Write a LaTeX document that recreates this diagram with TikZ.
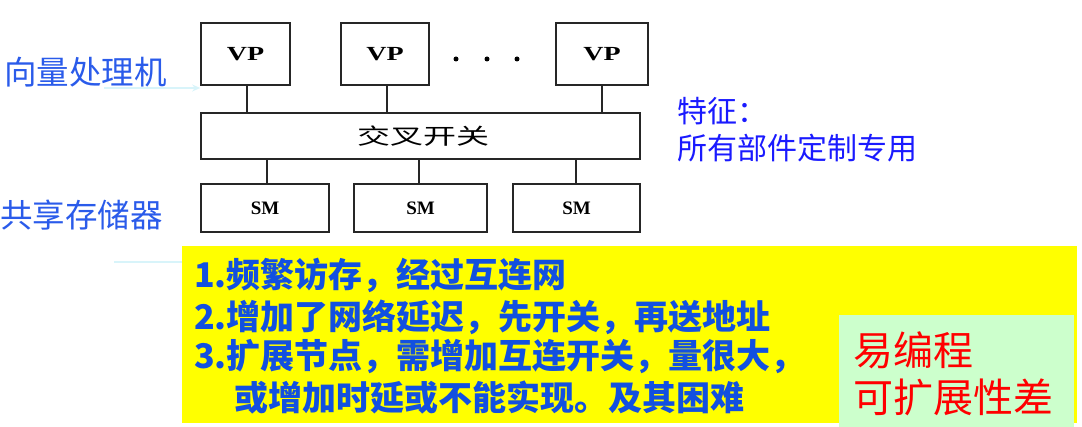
\documentclass[tikz,border=0pt]{standalone}
\usepackage{fontspec}
\setmainfont{Liberation Serif}
\newfontfamily\cjk{Noto Sans CJK SC}
\usetikzlibrary{arrows.meta}
\definecolor{lblue}{HTML}{2A5BEA}
\definecolor{tblue}{HTML}{1250E0}
\definecolor{fblue}{HTML}{1A1AFF}
\definecolor{ayellow}{HTML}{FFFF00}
\definecolor{agreen}{HTML}{CCFFCC}
\definecolor{acyan}{HTML}{D8F4FA}
\begin{document}
\begin{tikzpicture}[x=1pt,y=-1pt,
  blk/.style={draw=black!85,line width=1.6pt,inner sep=0pt},
  lnk/.style={draw=black!85,line width=1.6pt},
  side/.style={anchor=west,text=lblue,font=\cjk\fontsize{32.5}{36}\selectfont,inner sep=0pt},
  item/.style={anchor=west,text=tblue,font=\cjk\bfseries\fontsize{34}{38}\selectfont,inner sep=0pt},
  redt/.style={anchor=west,text=red,font=\cjk\fontsize{40}{44}\selectfont,inner sep=0pt},
  feat/.style={anchor=west,text=fblue,font=\cjk\fontsize{30}{34}\selectfont,inner sep=0pt},
  vpt/.style={font=\bfseries\fontsize{20}{22}\selectfont},
  smt/.style={font=\bfseries\fontsize{19}{20}\selectfont}]
\useasboundingbox (0,0) rectangle (1082,427);
% VP boxes
\node[blk,minimum width=89pt,minimum height=62pt] (vp1) at (245.5,54) {};
\node[blk,minimum width=88pt,minimum height=62pt] (vp2) at (385,54) {};
\node[blk,minimum width=92pt,minimum height=62pt] (vp3) at (602,54) {};
\node[vpt] (vp1t) at (vp1) {\scalebox{1.4}[1]{VP}};
\node[vpt] (vp2t) at (vp2) {\scalebox{1.4}[1]{VP}};
\node[vpt] (vp3t) at (vp3) {\scalebox{1.4}[1]{VP}};
\fill (456,59) circle (2.5pt) (487,59) circle (2.5pt) (517,59) circle (2.5pt);
% crossbar
\node[blk,minimum width=439pt,minimum height=46pt] (xb) at (420.5,136) {};
\node[font=\cjk\fontsize{22}{24}\selectfont] (xbt) at (423,136) {\scalebox{1.5}[1]{交叉开关}};
% SM boxes
\node[blk,minimum width=128pt,minimum height=48pt] (sm1) at (265,208) {};
\node[blk,minimum width=133pt,minimum height=48pt] (sm2) at (420.5,208) {};
\node[blk,minimum width=127pt,minimum height=48pt] (sm3) at (576.5,208) {};
\node[smt] (sm1t) at (sm1) {SM};
\node[smt] (sm2t) at (sm2) {SM};
\node[smt] (sm3t) at (sm3) {SM};
% links
\draw[lnk] (vp1.south -| 247,0) -- (xb.north -| 247,0);
\draw[lnk] (vp2.south -| 387,0) -- (xb.north -| 387,0);
\draw[lnk] (vp3.south -| 602,0) -- (xb.north -| 602,0);
\draw[lnk] (xb.south -| 267,0) -- (sm1.north -| 267,0);
\draw[lnk] (xb.south -| 419,0) -- (sm2.north -| 419,0);
\draw[lnk] (xb.south -| 576,0) -- (sm3.north -| 576,0);
% side labels
\node[side] (lvp) at (4,72) {向量处理机};
\node[side] (lsm) at (0,215) {共享存储器};
\coordinate (a1) at (104,88);
\draw[acyan,line width=1.5pt,-{Stealth[length=8pt,width=7pt]}] (a1) -- (vp1.west |- a1);
% features
\node[feat] (f1) at (677,111) {特征：};
\node[feat] (f2) at (677,148) {所有部件定制专用};
% yellow box
\coordinate (l1) at (114,262);
\node[fill=ayellow,minimum width=895pt,minimum height=177pt,inner sep=0pt] (yb) at (629.5,334.5) {};
\draw[acyan,line width=1.5pt] (l1) -- (yb.west |- l1);
\node[item] (i1) at (194,275) {1.频繁访存，经过互连网};
\node[item] (i2) at (194,317) {2.增加了网络延迟，先开关，再送地址};
\node[item] (i3) at (194,357) {3.扩展节点，需增加互连开关，量很大，};
\node[item] (i4) at (234,398) {或增加时延或不能实现。及其困难};
% green box
\node[fill=agreen,minimum width=235pt,minimum height=112pt,inner sep=0pt] (gb) at (956.5,371) {};
\node[redt] (r1) at (853,350) {易编程};
\node[redt] (r2) at (853,397) {可扩展性差};
\end{tikzpicture}
\end{document}
